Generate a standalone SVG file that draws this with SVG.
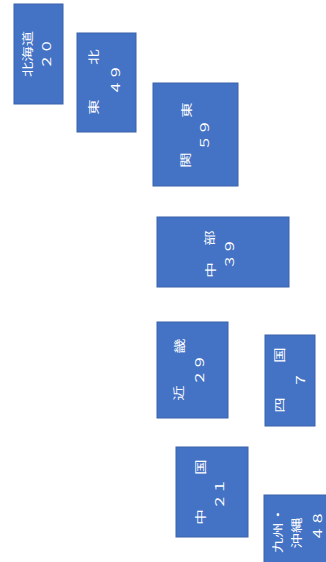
<svg xmlns="http://www.w3.org/2000/svg" width="326" height="562" viewBox="0 0 326 562">
<style>
.box{fill:#4472C4;stroke:#3A62AC;stroke-width:1}
.t{fill:#ffffff;font-family:"Noto Sans CJK JP","Noto Sans CJK SC",sans-serif;font-size:11px;text-anchor:middle;dominant-baseline:central}
</style>
<rect x="0" y="0" width="326" height="562" fill="#ffffff"/>
<g id="hokkaido">
<rect class="box" x="14" y="4" width="49" height="100"/>
<text class="t" transform="translate(27,54) rotate(-90) scale(1.4,1)">北海道</text>
<text class="t" transform="translate(46.5,54) rotate(-90) scale(1.4,1)">２０</text>
</g>
<g id="tohoku">
<rect class="box" x="77" y="33" width="59" height="99"/>
<text class="t" transform="translate(93,107) rotate(-90) scale(1.4,1)">東</text>
<text class="t" transform="translate(93,57) rotate(-90) scale(1.4,1)">北</text>
<text class="t" transform="translate(115,80) rotate(-90) scale(1.4,1)">４９</text>
</g>
<g id="kanto">
<rect class="box" x="153" y="83" width="85" height="103"/>
<text class="t" transform="translate(185,160) rotate(-90) scale(1.4,1)">関</text>
<text class="t" transform="translate(186,110) rotate(-90) scale(1.4,1)">東</text>
<text class="t" transform="translate(204,135) rotate(-90) scale(1.4,1)">５９</text>
</g>
<g id="chubu">
<rect class="box" x="157" y="217" width="132" height="70"/>
<text class="t" transform="translate(210,270) rotate(-90) scale(1.4,1)">中</text>
<text class="t" transform="translate(209,238) rotate(-90) scale(1.4,1)">部</text>
<text class="t" transform="translate(229,254) rotate(-90) scale(1.4,1)">３９</text>
</g>
<g id="kinki">
<rect class="box" x="157" y="322" width="71" height="96"/>
<text class="t" transform="translate(178,393) rotate(-90) scale(1.4,1)">近</text>
<text class="t" transform="translate(179,346) rotate(-90) scale(1.4,1)">畿</text>
<text class="t" transform="translate(199,370) rotate(-90) scale(1.4,1)">２９</text>
</g>
<g id="shikoku">
<rect class="box" x="265" y="335" width="50" height="91"/>
<text class="t" transform="translate(279,405) rotate(-90) scale(1.4,1)">四</text>
<text class="t" transform="translate(279,355) rotate(-90) scale(1.4,1)">国</text>
<text class="t" transform="translate(300,380) rotate(-90) scale(1.4,1)">７</text>
</g>
<g id="chugoku">
<rect class="box" x="176" y="447" width="72" height="90"/>
<text class="t" transform="translate(200,517) rotate(-90) scale(1.4,1)">中</text>
<text class="t" transform="translate(200,467) rotate(-90) scale(1.4,1)">国</text>
<text class="t" transform="translate(219,494) rotate(-90) scale(1.4,1)">２１</text>
</g>
<g id="kyushu">
<rect class="box" x="264" y="495" width="80" height="80"/>
<text class="t" transform="translate(277,530) rotate(-90) scale(1.4,1)">九州・</text>
<text class="t" transform="translate(296,533) rotate(-90) scale(1.4,1)">沖縄</text>
<text class="t" transform="translate(317,526) rotate(-90) scale(1.4,1)">４８</text>
</g>
</svg>
